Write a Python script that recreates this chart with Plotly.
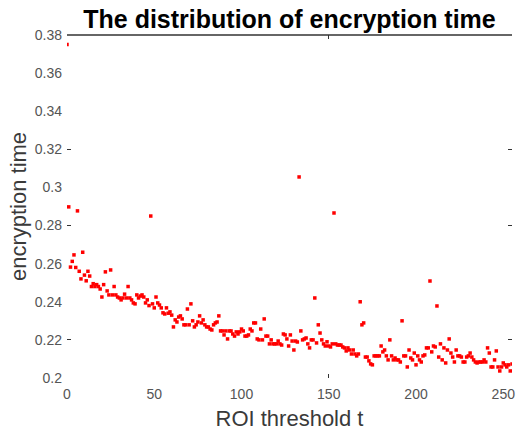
import plotly.graph_objects as go

# Encryption time measured for each ROI threshold t = 0..255
threshold = list(range(256))
enc_time = [
    0.3750, 0.2898, 0.2582, 0.2612, 0.2646, 0.2580, 0.2877, 0.2560, 0.2520, 0.2660,
    0.2540, 0.2510, 0.2560, 0.2535, 0.2480, 0.2495, 0.2480, 0.2490, 0.2480, 0.2467,
    0.2425, 0.2490, 0.2557, 0.2457, 0.2436, 0.2567, 0.2436, 0.2480, 0.2436, 0.2425,
    0.2420, 0.2410, 0.2420, 0.2440, 0.2420, 0.2480, 0.2420, 0.2410, 0.2394, 0.2389,
    0.2436, 0.2420, 0.2430, 0.2436, 0.2425, 0.2394, 0.2410, 0.2380, 0.2850, 0.2389,
    0.2368, 0.2425, 0.2394, 0.2383, 0.2368, 0.2342, 0.2336, 0.2368, 0.2340, 0.2347,
    0.2330, 0.2268, 0.2305, 0.2294, 0.2320, 0.2326, 0.2310, 0.2279, 0.2279, 0.2362,
    0.2279, 0.2389, 0.2300, 0.2268, 0.2279, 0.2294, 0.2326, 0.2289, 0.2305, 0.2279,
    0.2268, 0.2268, 0.2257, 0.2252, 0.2279, 0.2289, 0.2294, 0.2326, 0.2247, 0.2247,
    0.2226, 0.2247, 0.2205, 0.2247, 0.2247, 0.2231, 0.2220, 0.2242, 0.2231, 0.2242,
    0.2257, 0.2247, 0.2220, 0.2220, 0.2226, 0.2257, 0.2247, 0.2289, 0.2289, 0.2205,
    0.2200, 0.2257, 0.2200, 0.2310, 0.2220, 0.2220, 0.2179, 0.2200, 0.2179, 0.2179,
    0.2179, 0.2194, 0.2179, 0.2173, 0.2231, 0.2226, 0.2205, 0.2168, 0.2226, 0.2194,
    0.2147, 0.2194, 0.2189, 0.3055, 0.2247, 0.2200, 0.2205, 0.2210, 0.2179, 0.2158,
    0.2200, 0.2200, 0.2420, 0.2184, 0.2279, 0.2236, 0.2200, 0.2179, 0.2168, 0.2190,
    0.2168, 0.2163, 0.2179, 0.2866, 0.2179, 0.2173, 0.2173, 0.2173, 0.2163, 0.2158,
    0.2142, 0.2158, 0.2147, 0.2126, 0.2147, 0.2126, 0.2116, 0.2126, 0.2400, 0.2279,
    0.2289, 0.2110, 0.2110, 0.2090, 0.2074, 0.2069, 0.2116, 0.2116, 0.2116, 0.2116,
    0.2168, 0.2137, 0.2147, 0.2116, 0.2095, 0.2200, 0.2116, 0.2095, 0.2105, 0.2095,
    0.2095, 0.2084, 0.2300, 0.2116, 0.2116, 0.2058, 0.2147, 0.2105, 0.2095, 0.2131,
    0.2069, 0.2116, 0.2095, 0.2084, 0.2116, 0.2121, 0.2158, 0.2158, 0.2509, 0.2137,
    0.2168, 0.2163, 0.2378, 0.2110, 0.2179, 0.2095, 0.2158, 0.2079, 0.2147, 0.2205,
    0.2131, 0.2110, 0.2084, 0.2147, 0.2116, 0.2116, 0.2110, 0.2084, 0.2084, 0.2110,
    0.2116, 0.2131, 0.2110, 0.2095, 0.2084, 0.2079, 0.2084, 0.2084, 0.2084, 0.2095,
    0.2084, 0.2158, 0.2131, 0.2058, 0.2058, 0.2095, 0.2142, 0.2058, 0.2037, 0.2058,
    0.2079, 0.2069, 0.2058, 0.2069, 0.2037, 0.2074,
]

x_ticks = [0, 50, 100, 150, 200, 250]
y_ticks = [0.20, 0.22, 0.24, 0.26, 0.28, 0.30, 0.32, 0.34, 0.36, 0.38]
y_tick_text = ["0.2", "0.22", "0.24", "0.26", "0.28", "0.3", "0.32", "0.34", "0.36", "0.38"]

W, H = 517, 433
FONT = "Liberation Sans, Arial, sans-serif"
TICK_COLOR = "#555555"

fig = go.Figure()
fig.add_trace(go.Scatter(
    x=threshold, y=enc_time, mode="markers",
    marker=dict(symbol="square", size=3.5, color="#ff0000", line=dict(width=0)),
    hoverinfo="x+y", showlegend=False,
))

fig.update_layout(
    width=W, height=H,
    margin=dict(l=67, r=2, t=35, b=55),
    paper_bgcolor="white", plot_bgcolor="white",
    font=dict(family=FONT, color=TICK_COLOR),
    title=dict(
        text="<b>The distribution of encryption time</b>",
        font=dict(family=FONT, size=25, color="#000000"),
        x=0.5, xref="paper", xanchor="center",
        y=1 - 19 / H, yref="container", yanchor="middle",
    ),
    xaxis=dict(
        range=[0, 255], tickvals=x_ticks, ticks="", ticklen=0,
        ticklabelstandoff=6, ticklabeloverflow="allow",
        showgrid=False, zeroline=False, showline=False,
        tickfont=dict(size=14, color=TICK_COLOR),
        title=dict(text="ROI threshold t", font=dict(size=22, color="#3a3a3a"), standoff=9),
    ),
    yaxis=dict(
        range=[0.2, 0.38], tickvals=y_ticks, ticktext=y_tick_text, ticks="", ticklen=0,
        ticklabelstandoff=4,
        showgrid=False, zeroline=False, showline=False,
        tickfont=dict(size=14, color=TICK_COLOR),
        title=dict(text="encryption time", font=dict(size=22, color="#3a3a3a"), standoff=2),
    ),
    # a few inward tick marks that survive on the box
    xaxis2=dict(
        overlaying="x", matches="x", range=[0, 255], tickvals=[150],
        ticks="inside", ticklen=4, tickcolor="#333333", showticklabels=False,
        showgrid=False, zeroline=False, showline=False, mirror="ticks",
    ),
    yaxis2=dict(
        overlaying="y", matches="y", range=[0.2, 0.38], tickvals=[0.22, 0.28, 0.32],
        ticks="inside", ticklen=4, tickcolor="#333333", showticklabels=False,
        showgrid=False, zeroline=False, showline=False, mirror="ticks",
    ),
    shapes=[dict(
        type="line", xref="paper", yref="paper", x0=0, x1=1, y0=1, y1=1,
        line=dict(color="#333333", width=1.6),
    )],
)

# invisible trace to activate the secondary tick axes
fig.add_trace(go.Scatter(x=[None], y=[None], xaxis="x2", yaxis="y2",
                         showlegend=False, hoverinfo="skip"))

fig.write_html("out.html")
